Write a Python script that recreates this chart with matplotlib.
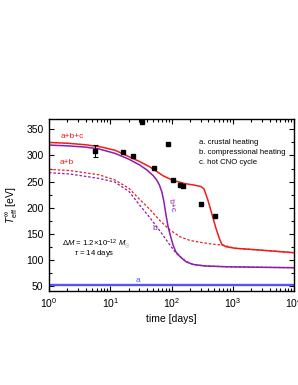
import numpy as np
import matplotlib as mpl
mpl.use('Agg')
import matplotlib.pyplot as plt
from matplotlib.ticker import LogLocator, MultipleLocator, NullFormatter

mpl.rcParams['font.family'] = ['Liberation Sans', 'DejaVu Sans']
mpl.rcParams['mathtext.fontset'] = 'custom'
mpl.rcParams['mathtext.rm'] = 'Liberation Sans'
mpl.rcParams['mathtext.it'] = 'Liberation Sans:italic'
mpl.rcParams['mathtext.bf'] = 'Liberation Sans:bold'

# observed points (days, eV)
obs_t = [5.57, 16.2, 23.5, 32.4, 51.8, 86.7, 107, 137, 152, 299, 513]
obs_T = [309, 307.5, 299, 365, 276.5, 321.5, 253, 243.5, 241.5, 207, 184]
err_t = [5.57]
err_T = [309]
err_lo = [11]
err_hi = [11]

# a+b+c (red solid)
abc_t = [1, 2, 4, 7, 12, 20, 30, 43, 50, 73, 107, 166, 240, 300, 339, 394, 458,
         533, 608, 667, 776, 1090, 2800, 10000]
abc_T = [325, 323.5, 320.5, 316.5, 310, 298, 288.5, 279, 274, 261, 252, 246, 243,
         240.5, 236, 214, 187, 160, 140, 129, 125, 122, 118.5, 113.5]

# a+b (red dashed)
ab_t = [1, 2.2, 6.55, 11.9, 20.2, 29.5, 44.8, 64.9, 94.5, 138, 200, 292, 458, 694,
        1090, 2800, 10000]
ab_T = [273.5, 271, 263, 253, 237, 217, 196, 175, 157, 144, 137, 133.5, 130, 128,
        122, 118.5, 113.5]

# b+c (purple solid)
bc_t = [1, 2, 4, 6.55, 12, 20, 30, 40, 50.5, 57.3, 63.7, 70, 75.5, 81.3, 87.7, 94.5,
        106, 118, 138, 173, 224, 352, 806, 2786, 10000]
bc_T = [320, 318.5, 316, 312.5, 304, 293, 282, 272, 261, 253, 243, 229, 210, 186,
        164, 149, 128, 115, 106, 96, 91, 88, 86.5, 85.5, 84.7]

# b (purple dashed)
b_t = [1, 2.2, 6.55, 11.9, 20.2, 30.6, 44.8, 64.9, 94.5, 120, 148, 173, 224, 352,
       806, 2786, 10000]
b_T = [267, 264.5, 256, 249, 231, 204, 180, 155, 128, 112, 103, 97, 91, 88, 86.5,
       85.5, 84.7]

# a (crustal heating only)
a_t = [1, 10000]
a_T = [52, 52]

red = '#f01c1c'
purple = '#8c1ea8'
blue = '#5454ff'

fig = plt.figure(figsize=(2.98, 3.85), dpi=100)
ax = fig.add_axes([49 / 298., 1 - 291 / 385., 245 / 298., 172 / 385.])

ax.plot(a_t, a_T, color=blue, lw=1.7)
ax.plot(b_t, b_T, color=purple, lw=0.9, ls=(0, (2, 1.5)))
ax.plot(ab_t, ab_T, color=red, lw=0.9, ls=(0, (2, 1.5)))
ax.plot(bc_t, bc_T, color=purple, lw=1.1)
ax.plot(abc_t, abc_T, color=red, lw=1.1)

ax.errorbar(err_t, err_T, yerr=[err_lo, err_hi], fmt='none', ecolor='black',
            elinewidth=0.8, capsize=1.8, capthick=0.8)
ax.plot(obs_t, obs_T, 's', color='black', markersize=3.3)

# Curve labels
ax.text(2.375, 336, 'a+b+c', color=red, ha='center', va='center', size=6)
ax.text(1.97, 286, 'a+b', color=red, ha='center', va='center', size=6)
ax.text(98, 203, 'b+c', color=purple, ha='center', va='center', size=6, rotation=-80)
ax.text(53, 159, 'b', color=purple, ha='center', va='center', size=6)
ax.text(28, 61, 'a', color=blue, ha='center', va='center', size=6)

ax.text(5.85, 132, r'$\Delta M$ = 1.2$\times$10$^{-12}$ $M_{\odot}$', ha='center',
        va='center', size=5.6)
ax.text(5.43, 112, r'$\tau$ = 14 days', ha='center', va='center', size=5.6)

# Legend text
ax.text(0.613, 0.862, 'a. crustal heating', transform=ax.transAxes, ha='left', va='center', size=5.6)
ax.text(0.613, 0.806, 'b. compressional heating', transform=ax.transAxes, ha='left', va='center', size=5.6)
ax.text(0.613, 0.750, 'c. hot CNO cycle', transform=ax.transAxes, ha='left', va='center', size=5.6)

# Axes
ax.set_xscale('log')
ax.set_xlim(1, 1e4)
ax.set_ylim(40, 370)
ax.yaxis.set_major_locator(MultipleLocator(50))
ax.yaxis.set_minor_locator(MultipleLocator(25))
ax.xaxis.set_minor_locator(LogLocator(base=10, subs=np.arange(2, 10)))
ax.xaxis.set_minor_formatter(NullFormatter())

ax.tick_params(which='both', direction='in', top=True, right=True, labelsize=7.5, width=0.8)
ax.tick_params(which='major', length=3.5, pad=4)
ax.tick_params(which='minor', length=2)
for s in ax.spines.values():
    s.set_linewidth(1.0)

ax.set_xlabel('time [days]', size=7.5)
ax.set_ylabel(r'$T_{\rm eff}^{\infty}$ [eV]', size=7.5)
ax.xaxis.set_label_coords(0.5, -0.134)
ax.yaxis.set_label_coords(-0.122, 0.5)

fig.savefig('out.png', dpi=100)
